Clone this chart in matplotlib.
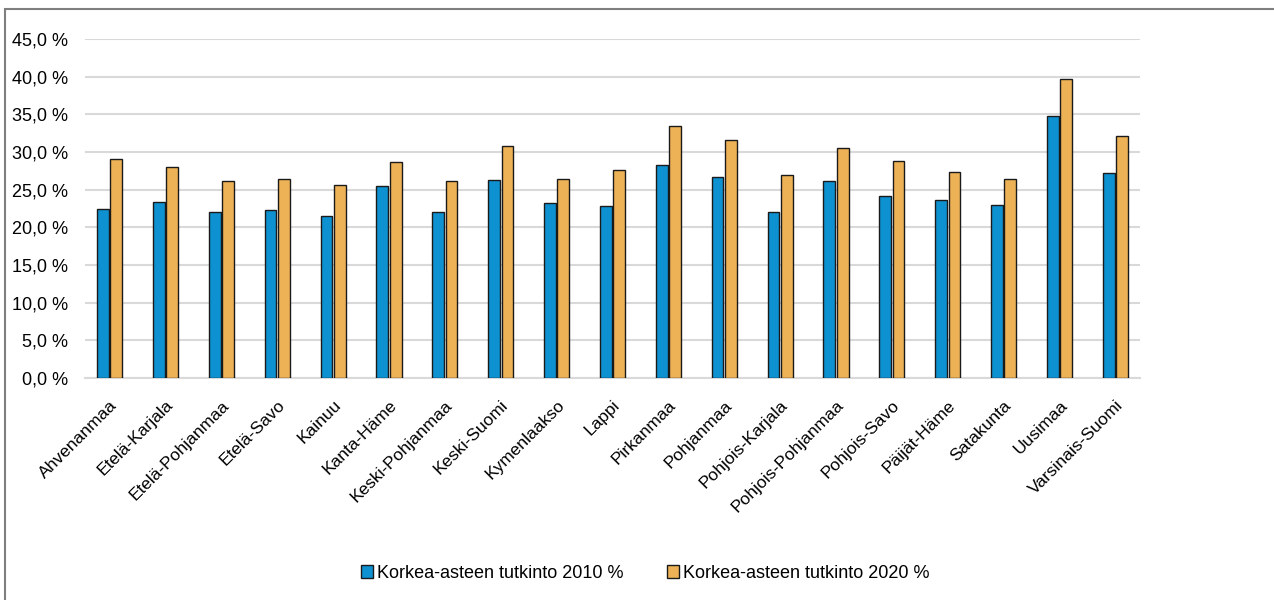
import numpy as np
import matplotlib
matplotlib.use("Agg")
from matplotlib import pyplot as plt
from matplotlib.patches import Rectangle

regions = ["Ahvenanmaa", "Etelä-Karjala", "Etelä-Pohjanmaa", "Etelä-Savo", "Kainuu",
           "Kanta-Häme", "Keski-Pohjanmaa", "Keski-Suomi", "Kymenlaakso", "Lappi",
           "Pirkanmaa", "Pohjanmaa", "Pohjois-Karjala", "Pohjois-Pohjanmaa", "Pohjois-Savo",
           "Päijät-Häme", "Satakunta", "Uusimaa", "Varsinais-Suomi"]
share_2010 = [22.5, 23.4, 22.1, 22.3, 21.5, 25.5, 22.1, 26.3, 23.2, 22.8,
              28.3, 26.7, 22.1, 26.1, 24.2, 23.6, 22.9, 34.8, 27.2]
share_2020 = [29.1, 28.0, 26.2, 26.4, 25.6, 28.7, 26.2, 30.8, 26.4, 27.6,
              33.5, 31.6, 27.0, 30.5, 28.8, 27.3, 26.4, 39.7, 32.1]
series_names = ["Korkea-asteen tutkinto 2010 %", "Korkea-asteen tutkinto 2020 %"]
yticks = np.arange(0, 46, 5)

plt.rcParams['font.family'] = ['Liberation Sans Narrow', 'Liberation Sans', 'DejaVu Sans']
fs = 12

fig = plt.figure(figsize=(12.74, 6), dpi=100)
# plot area: grid from x=85 to 1140 px, y=39 to 378 px
ax = fig.add_axes([85 / 1274, 1 - 378 / 600, (1140 - 85) / 1274, (378 - 39) / 600])

x = np.arange(len(regions))
w = 0.21
ax.bar(x - 0.12, share_2010, w, color="#0E91D0", edgecolor="#1a1a1a", linewidth=1,
       label=series_names[0], zorder=3)
ax.bar(x + 0.12, share_2020, w, color="#EDB255", edgecolor="#1a1a1a", linewidth=1,
       label=series_names[1], zorder=3)

ax.set_xlim(-0.44, len(regions) - 1 + 0.44)
ax.set_ylim(0, 45)
ax.set_yticks(yticks)
ax.set_yticklabels([f"{v:.1f}".replace(".", ",") + " %" for v in yticks], fontsize=fs + 1)
ax.set_xticks(x)
ax.set_xticklabels(regions, rotation=45, ha="right", rotation_mode="anchor", fontsize=fs + 0.5)
ax.tick_params(axis="both", length=0)
ax.tick_params(axis="y", pad=12)
ax.tick_params(axis="x", pad=14)
ax.grid(axis="y", color="#D9D9D9", linewidth=1.5, zorder=0)
for s in ["top", "right", "left"]:
    ax.spines[s].set_visible(False)
ax.spines["bottom"].set_color("#D9D9D9")
ax.spines["bottom"].set_linewidth(1.5)

fig.legend(loc="center", bbox_to_anchor=(645 / 1274, 1 - 573 / 600), ncol=2, frameon=False,
           fontsize=fs + 1, handlelength=0.7, handleheight=0.7, handletextpad=0.2,
           columnspacing=2.4)

# outer chart border
fig.patches.append(Rectangle((5 / 1274, -0.05), 1.1, 1 - 9 / 600 + 0.05, transform=fig.transFigure,
                             fill=False, edgecolor="#7f7f7f", linewidth=1.5))

fig.savefig("out.png", dpi=100)
